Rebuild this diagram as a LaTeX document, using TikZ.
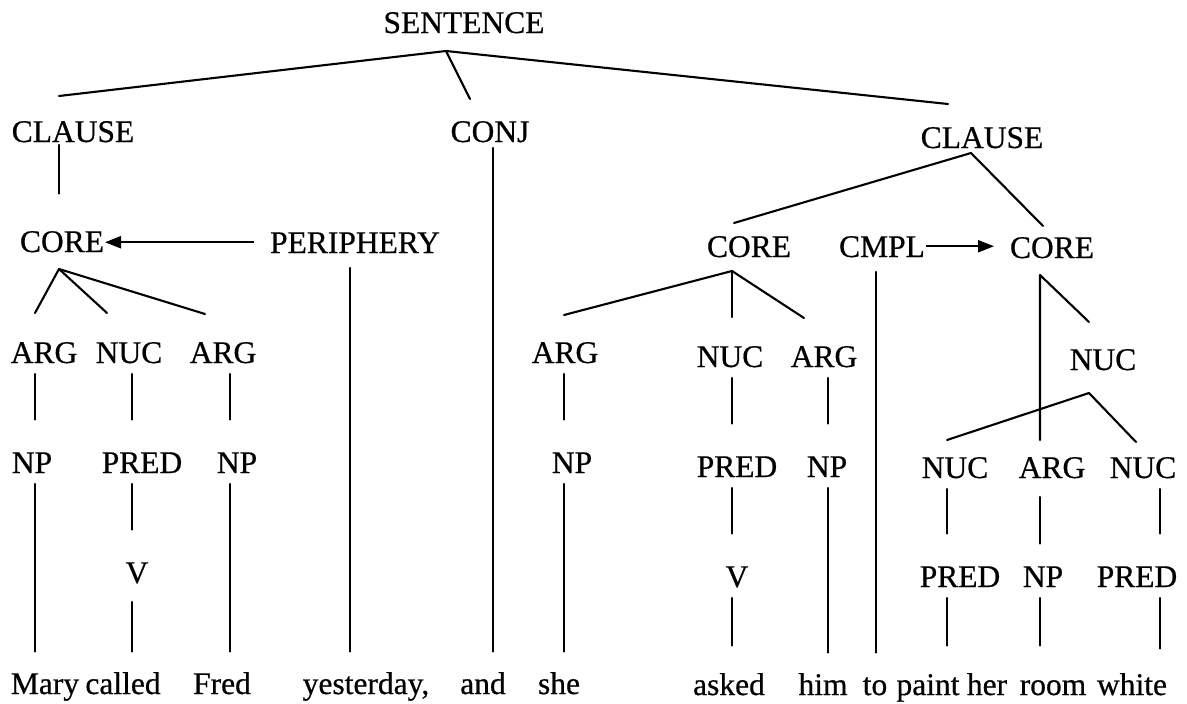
\documentclass[tikz,border=0pt]{standalone}
\usepackage{fontspec}
\setmainfont{Liberation Serif}[FakeBold=0.6]
\usetikzlibrary{arrows.meta}
\begin{document}
\begin{tikzpicture}[x=1pt,y=-1pt,
  lab/.style={anchor=base, inner sep=0pt, outer sep=0pt, text height=21.5pt, text depth=0pt,
              font=\fontsize{31.5}{36}\selectfont},
  link/.style={line width=2.1pt, line cap=round, line join=round},
  stem/.style={link, shorten <=11pt, shorten >=32pt},
  leaf/.style={link, shorten <=11pt, shorten >=21pt},
  arr/.style={line width=2.1pt, -{Triangle[length=16pt,width=12pt]}},
]
\useasboundingbox (0,0) rectangle (1187,704);
\fill[white] (0,0) rectangle (1187,704);

% ---- labels ----
\node[lab] (sent)    at (464,33)  {SENTENCE};
\node[lab] (clauseL) at (73,142)  {CLAUSE};
\node[lab] (conj)    at (490,142) {CONJ};
\node[lab] (clauseR) at (982,148) {CLAUSE};

\node[lab] (coreL) at (62,252)   {CORE};
\node[lab] (peri)  at (355,253)  {PERIPHERY};
\node[lab] (coreM) at (749,257)  {CORE};
\node[lab] (cmpl)  at (882,257)  {CMPL};
\node[lab] (coreR) at (1052,258) {CORE};

\node[lab] (argLa) at (44,363)   {ARG};
\node[lab] (nucL)  at (129,363)  {NUC};
\node[lab] (argLb) at (223,363)  {ARG};
\node[lab] (argMa) at (565,363)  {ARG};
\node[lab] (nucM)  at (730,367)  {NUC};
\node[lab] (argMb) at (824,367)  {ARG};
\node[lab] (nucR)  at (1103,370) {NUC};

\node[lab] (npLa)  at (32,473)   {NP};
\node[lab] (predL) at (142,473)  {PRED};
\node[lab] (npLb)  at (237,473)  {NP};
\node[lab] (npMa)  at (572,473)  {NP};
\node[lab] (predM) at (737,477)  {PRED};
\node[lab] (npMb)  at (827,477)  {NP};
\node[lab] (nucRa) at (955,478)  {NUC};
\node[lab] (argR)  at (1052,478) {ARG};
\node[lab] (nucRb) at (1143,478) {NUC};

\node[lab] (vL)     at (137,583)  {V};
\node[lab] (vM)     at (737,587)  {V};
\node[lab] (predRa) at (960,587)  {PRED};
\node[lab] (npR)    at (1043,587) {NP};
\node[lab] (predRb) at (1137,587) {PRED};

% ---- words ----
\node[lab] (w1)  at (45,694)    {Mary};
\node[lab] (w2)  at (123,694)   {called};
\node[lab] (w3)  at (222,694)   {Fred};
\node[lab] (w4)  at (366,694)   {yesterday,};
\node[lab] (w5)  at (483,694)   {and};
\node[lab] (w6)  at (559,694)   {she};
\node[lab] (w7)  at (729,695)   {asked};
\node[lab] (w8)  at (823,695)   {him};
\node[lab] (w9)  at (875,695)   {to};
\node[lab] (w10) at (928,695)   {paint};
\node[lab] (w11) at (987,695)   {her};
\node[lab] (w12) at (1053,695)  {room};
\node[lab] (w13) at (1132,695)  {white};

% ---- columns of the vertical stems ----
\coordinate (c0)  at (59,0);
\coordinate (c1)  at (35,0);
\coordinate (c2)  at (132,0);
\coordinate (c3)  at (230,0);
\coordinate (c4)  at (350,0);
\coordinate (c5)  at (493,0);
\coordinate (c6)  at (564,0);
\coordinate (c7)  at (732,0);
\coordinate (c8)  at (828,0);
\coordinate (c9)  at (876,0);
\coordinate (c10) at (947,0);
\coordinate (c11) at (1040,0);
\coordinate (c12) at (1160,0);

% ---- branching points ----
\coordinate (sApex) at ([xshift=-18pt,yshift=-18pt]sent.base);
\coordinate (kL)    at ([xshift=-3pt,yshift=-17pt]coreL.south);
\coordinate (kCl)   at ([xshift=-11pt,yshift=-5pt]clauseR.south);
\coordinate (kM)    at ([xshift=-17pt,yshift=-14pt]coreM.south);
\coordinate (kR)    at ([xshift=-12pt,yshift=-17pt]coreR.south);
\coordinate (kN)    at ([xshift=-14pt,yshift=-23pt]nucR.south);

% ---- branches ----
\draw[link] ([xshift=-14pt,yshift=24.5pt]clauseL.north) -- (sApex) -- ([xshift=-34pt,yshift=22.5pt]clauseR.north);
\draw[link] (sApex) -- ([xshift=-20pt,yshift=21.5pt]conj.north);

\draw[link] ([xshift=-9pt,yshift=28.5pt]argLa.north) -- (kL) -- ([xshift=-18pt,yshift=27.5pt]argLb.north);
\draw[link] (kL) -- ([xshift=-22pt,yshift=28.5pt]nucL.north);

\draw[link] ([xshift=-15pt,yshift=12.5pt]coreM.north) -- (kCl) -- ([xshift=-9pt,yshift=10.5pt]coreR.north);

\draw[link] ([xshift=-1pt,yshift=26.5pt]argMa.north) -- (kM) -- ([xshift=-20pt,yshift=27.5pt]argMb.north);
\draw[link] (kM) -- ([xshift=2pt,yshift=28.5pt]nucM.north);

\draw[link] ([xshift=-12pt,yshift=16.5pt]argR.north) -- (kR) -- ([xshift=-14pt,yshift=26.5pt]nucR.north);

\draw[link] ([xshift=-8pt,yshift=16.5pt]nucRa.north) -- (kN) -- ([xshift=-7pt,yshift=14.5pt]nucRb.north);

% ---- stems ----
\draw[stem, shorten <=3pt, shorten >=37pt] (clauseL.south -| c0) -- (coreL.north -| c0);

\draw[stem] (argLa.south -| c1) -- (npLa.north -| c1);
\draw[leaf] (npLa.south -| c1) -- (w1.north -| c1);
\draw[stem] (nucL.south -| c2) -- (predL.north -| c2);
\draw[stem] (predL.south -| c2) -- (vL.north -| c2);
\draw[leaf, shorten <=19pt] (vL.south -| c2) -- (w2.north -| c2);
\draw[stem] (argLb.south -| c3) -- (npLb.north -| c3);
\draw[leaf] (npLb.south -| c3) -- (w3.north -| c3);
\draw[leaf, shorten <=15pt] (peri.south -| c4) -- (w4.north -| c4);
\draw[leaf, shorten <=6pt] (conj.south -| c5) -- (w5.north -| c5);

\draw[stem] (argMa.south -| c6) -- (npMa.north -| c6);
\draw[leaf] (npMa.south -| c6) -- (w6.north -| c6);
\draw[stem] (nucM.south -| c7) -- (predM.north -| c7);
\draw[stem] (predM.south -| c7) -- (vM.north -| c7);
\draw[leaf, shorten >=28pt] (vM.south -| c7) -- (w7.north -| c7);
\draw[stem] (argMb.south -| c8) -- (npMb.north -| c8);
\draw[leaf] (npMb.south -| c8) -- (w8.north -| c8);
\draw[leaf, shorten <=15pt] (cmpl.south -| c9) -- (w9.north -| c9);

\draw[stem] (nucRa.south -| c10) -- (predRa.north -| c10);
\draw[leaf, shorten >=28pt] (predRa.south -| c10) -- (w10.north -| c10);
\draw[stem, shorten <=19pt, shorten >=22pt] (argR.south -| c11) -- (npR.north -| c11);
\draw[leaf, shorten >=28pt] (npR.south -| c11) -- (w12.north -| c11);
\draw[stem] (nucRb.south -| c12) -- (predRb.north -| c12);
\draw[leaf, shorten >=25pt] (predRb.south -| c12) -- (w13.north -| c12);

% ---- arrows ----
\draw[arr, shorten <=16pt, shorten >=1pt] (peri.west) -- (coreL.east |- peri.west);
\draw[arr, shorten <=1pt, shorten >=16pt] (cmpl.east) -- (coreR.west |- cmpl.east);
\end{tikzpicture}
\end{document}
